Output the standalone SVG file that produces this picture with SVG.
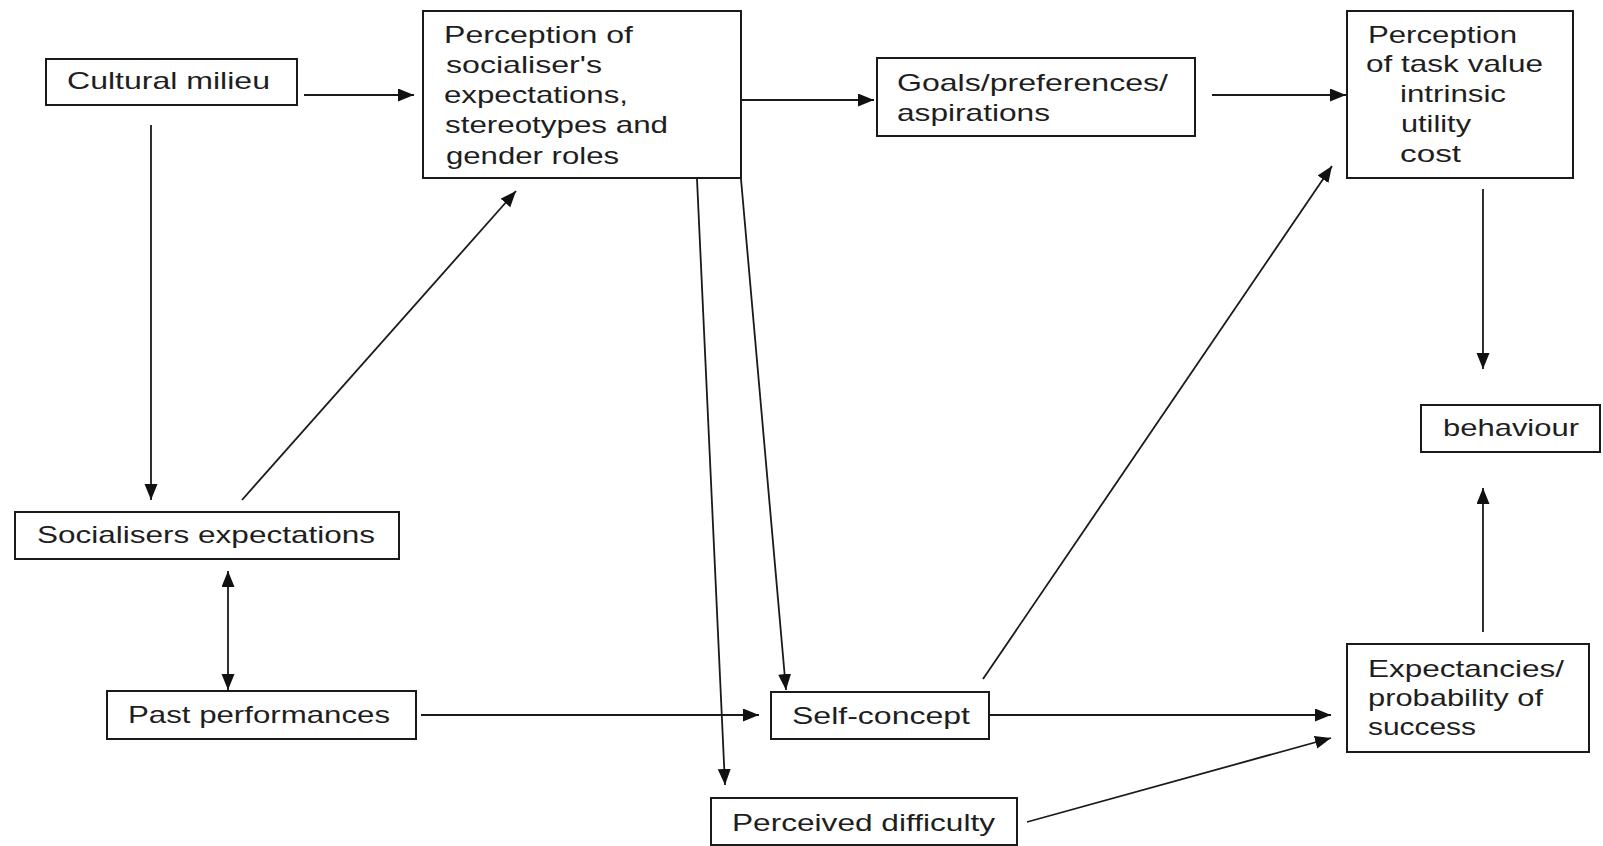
<svg xmlns="http://www.w3.org/2000/svg" width="1603" height="846" viewBox="0 0 1603 846">
  <style>
    .box { fill: #ffffff; stroke: #1a1a1a; stroke-width: 2; }
    .lbl { font-family: "Liberation Sans", Arial, sans-serif; font-size: 24px; fill: #1e1e1e; }
    .conn { stroke: #1a1a1a; stroke-width: 1.8; fill: none; marker-end: url(#arrow); }
  </style>
  <defs>
    <marker id="arrow" markerUnits="userSpaceOnUse" markerWidth="18" markerHeight="15" refX="16" refY="6.5" orient="auto-start-reverse">
      <path d="M0,0 L16,6.5 L0,13 z" fill="#111111"/>
    </marker>
  </defs>
  <rect width="1603" height="846" fill="#ffffff"/>

  <g id="connectors">
    <line class="conn" x1="304" y1="95" x2="414" y2="95"/>
    <line class="conn" x1="738" y1="100" x2="874" y2="100"/>
    <line class="conn" x1="1212" y1="95" x2="1346" y2="95"/>
    <line class="conn" x1="151" y1="125" x2="151" y2="500"/>
    <line class="conn" x1="242" y1="500" x2="516" y2="191"/>
    <line class="conn" x1="697" y1="179" x2="725" y2="785"/>
    <line class="conn" x1="741" y1="179" x2="786" y2="690"/>
    <line class="conn" x1="228" y1="571" x2="228" y2="690" marker-start="url(#arrow)"/>
    <line class="conn" x1="421" y1="715" x2="759" y2="715"/>
    <line class="conn" x1="987" y1="715" x2="1331" y2="715"/>
    <line class="conn" x1="1027" y1="822" x2="1331" y2="738"/>
    <line class="conn" x1="983" y1="679" x2="1332" y2="166"/>
    <line class="conn" x1="1483" y1="189" x2="1483" y2="369"/>
    <line class="conn" x1="1483" y1="632" x2="1483" y2="488"/>
  </g>

  <g id="cultural-milieu">
    <rect class="box" x="46" y="59" width="251" height="46"/>
    <text class="lbl" x="67" y="89" textLength="203" lengthAdjust="spacingAndGlyphs">Cultural milieu</text>
  </g>

  <g id="perception-socialiser">
    <rect class="box" x="423" y="11" width="318" height="167"/>
    <text class="lbl" x="444" y="43" textLength="189" lengthAdjust="spacingAndGlyphs">Perception of</text>
    <text class="lbl" x="446" y="73" textLength="156" lengthAdjust="spacingAndGlyphs">socialiser's</text>
    <text class="lbl" x="444" y="103" textLength="184" lengthAdjust="spacingAndGlyphs">expectations,</text>
    <text class="lbl" x="445" y="133" textLength="223" lengthAdjust="spacingAndGlyphs">stereotypes and</text>
    <text class="lbl" x="446" y="164" textLength="173" lengthAdjust="spacingAndGlyphs">gender roles</text>
  </g>

  <g id="goals">
    <rect class="box" x="877" y="58" width="318" height="78"/>
    <text class="lbl" x="897" y="91" textLength="271" lengthAdjust="spacingAndGlyphs">Goals/preferences/</text>
    <text class="lbl" x="897" y="121" textLength="153" lengthAdjust="spacingAndGlyphs">aspirations</text>
  </g>

  <g id="task-value">
    <rect class="box" x="1347" y="11" width="226" height="167"/>
    <text class="lbl" x="1368" y="43" textLength="149" lengthAdjust="spacingAndGlyphs">Perception</text>
    <text class="lbl" x="1366" y="72" textLength="177" lengthAdjust="spacingAndGlyphs">of task value</text>
    <text class="lbl" x="1400" y="102" textLength="106" lengthAdjust="spacingAndGlyphs">intrinsic</text>
    <text class="lbl" x="1401" y="132" textLength="70" lengthAdjust="spacingAndGlyphs">utility</text>
    <text class="lbl" x="1400" y="162" textLength="61" lengthAdjust="spacingAndGlyphs">cost</text>
  </g>

  <g id="behaviour">
    <rect class="box" x="1421" y="405" width="179" height="47"/>
    <text class="lbl" x="1443" y="436" textLength="136" lengthAdjust="spacingAndGlyphs">behaviour</text>
  </g>

  <g id="socialisers-expectations">
    <rect class="box" x="15" y="512" width="384" height="47"/>
    <text class="lbl" x="37" y="543" textLength="338" lengthAdjust="spacingAndGlyphs">Socialisers expectations</text>
  </g>

  <g id="past-performances">
    <rect class="box" x="107" y="691" width="309" height="48"/>
    <text class="lbl" x="128" y="723" textLength="262" lengthAdjust="spacingAndGlyphs">Past performances</text>
  </g>

  <g id="self-concept">
    <rect class="box" x="771" y="692" width="218" height="47"/>
    <text class="lbl" x="792" y="724" textLength="178" lengthAdjust="spacingAndGlyphs">Self-concept</text>
  </g>

  <g id="perceived-difficulty">
    <rect class="box" x="711" y="798" width="306" height="47"/>
    <text class="lbl" x="732" y="831" textLength="263" lengthAdjust="spacingAndGlyphs">Perceived difficulty</text>
  </g>

  <g id="expectancies">
    <rect class="box" x="1347" y="644" width="242" height="108"/>
    <text class="lbl" x="1368" y="677" textLength="196" lengthAdjust="spacingAndGlyphs">Expectancies/</text>
    <text class="lbl" x="1368" y="706" textLength="175" lengthAdjust="spacingAndGlyphs">probability of</text>
    <text class="lbl" x="1368" y="735" textLength="108" lengthAdjust="spacingAndGlyphs">success</text>
  </g>
</svg>
